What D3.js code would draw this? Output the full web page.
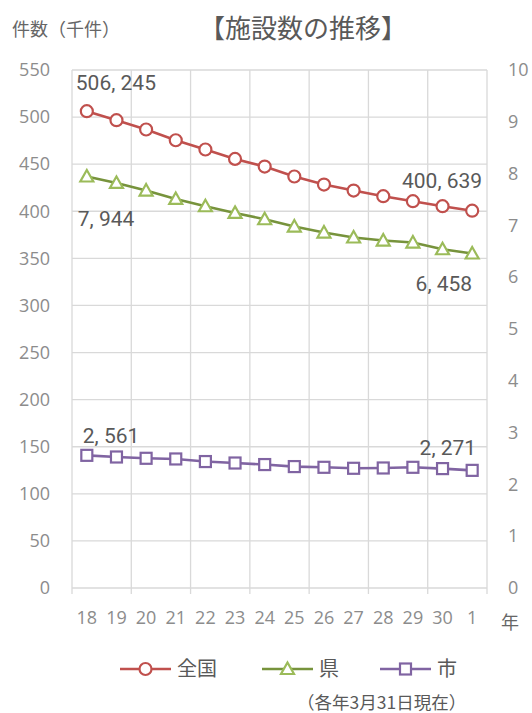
<!DOCTYPE html>
<html>
<head>
<meta charset="utf-8">
<script src="https://cdn.jsdelivr.net/npm/d3@7"></script>
<style>
body{margin:0;background:#fff;}
svg{display:block;font-family:"Noto Sans CJK JP","Noto Sans",sans-serif;}
.tick text{fill:#8c8c8c;font-family:"Open Sans","Noto Sans",sans-serif;font-size:18px;}
.lbl{fill:#595959;font-family:"Roboto","Noto Sans",sans-serif;font-size:21px;}
</style>
</head>
<body>
<script>
// 年度 (平成18〜令和1)
const years = ["18","19","20","21","22","23","24","25","26","27","28","29","30","1"];
// 全国 (件) - left axis
const zenkoku = [506245,496700,486800,475400,465600,455600,447500,436900,428400,422000,416000,410700,405400,400639];
// 県 (件) - right axis
const ken = [7944,7820,7673,7511,7370,7241,7119,6978,6862,6766,6708,6669,6540,6458];
// 市 (件) - right axis
const shi = [2561,2529,2504,2491,2441,2413,2383,2344,2330,2311,2317,2330,2305,2271];
const leftTicks = [0,50,100,150,200,250,300,350,400,450,500,550];
const rightTicks = [0,1,2,3,4,5,6,7,8,9,10];

const width = 532, height = 713;
const margin = {top:70, left:72, right:45, bottom:125};
const innerW = width - margin.left - margin.right;
const innerH = height - margin.top - margin.bottom;

const svg = d3.select("body").append("svg")
	.attr("width",width).attr("height",height);
svg.append("rect").attr("width",width).attr("height",height).attr("fill","#fff");

const fmt = d => d3.format(",")(d).replace(",", ", ");

let x = d3.scaleBand().domain(years).range([0,innerW]);
let yL = d3.scaleLinear().domain([0,550]).range([innerH,0]);
let yR = d3.scaleLinear().domain([0,10]).range([innerH,0]);

let g = svg.append("g").attr("transform","translate("+margin.left+","+margin.top+")");

//horizontal gridlines
g.append("g").selectAll("line").data(leftTicks).enter().append("line")
	.attr("x1",0).attr("x2",innerW)
	.attr("y1",d=>yL(d)).attr("y2",d=>yL(d))
	.attr("stroke","#d9d9d9").attr("stroke-width",1.3);
//vertical gridlines every 2 years
const vlines = d3.range(0, years.length+1, 2).map(i => i*x.step());
g.append("g").selectAll("line").data(vlines).enter().append("line")
	.attr("x1",d=>d).attr("x2",d=>d)
	.attr("y1",0).attr("y2",innerH+6)
	.attr("stroke","#d9d9d9").attr("stroke-width",1.3);

//left axis
let axL = g.append("g").call(d3.axisLeft(yL).tickValues(leftTicks).tickSize(0).tickPadding(22));
axL.select(".domain").remove();
//right axis
let axR = g.append("g").attr("transform","translate("+innerW+",0)")
	.call(d3.axisRight(yR).tickValues(rightTicks).tickSize(0).tickPadding(21));
axR.select(".domain").remove();
//x axis
let axB = g.append("g").attr("transform","translate(0,"+innerH+")")
	.call(d3.axisBottom(x).tickSize(0).tickPadding(23));
axB.select(".domain").remove();
axB.selectAll(".tick text").attr("dy","0.71em");

g.append("text").attr("x",innerW+14).attr("y",innerH+41)
	.attr("fill","#666").attr("font-size",18).text("年");

//series
const series = [
	{name:"全国", values:zenkoku.map(v=>v/1000), y:yL, line:"#c0504d", mark:"#c0504d", shape:"circle"},
	{name:"県", values:ken.map(v=>v/1000), y:yR, line:"#77933c", mark:"#9bbb59", shape:"triangle"},
	{name:"市", values:shi.map(v=>v/1000), y:yR, line:"#8064a2", mark:"#8064a2", shape:"square"}
];

function drawMarker(sel, shape, color){
	if(shape==="circle"){
		sel.append("circle").attr("r",6);
	} else if(shape==="triangle"){
		sel.append("path").attr("d","M0,-6.5L6.5,5L-6.5,5Z");
	} else {
		sel.append("rect").attr("x",-5.5).attr("y",-5.5).attr("width",11).attr("height",11);
	}
	sel.selectAll("circle,path,rect").attr("fill","#fff").attr("stroke",color).attr("stroke-width",2.2);
}

const cx = d => x(d) + x.bandwidth()/2;

series.forEach(s=>{
	let line = d3.line().x((d,i)=>cx(years[i])).y(d=>s.y(d));
	g.append("path").datum(s.values).attr("d",line)
		.attr("fill","none").attr("stroke",s.line).attr("stroke-width",2.6);
	s.values.forEach((v,i)=>{
		let m = g.append("g").attr("transform","translate("+cx(years[i])+","+s.y(v)+")");
		drawMarker(m, s.shape, s.mark);
	});
});

//data labels
const first = years[0], last = years[years.length-1];
const labels = [
	{t:fmt(zenkoku[0]), x:cx(first)-11, y:yL(zenkoku[0]/1000)-21, a:"start"},
	{t:fmt(zenkoku[13]), x:cx(last)+10, y:yL(zenkoku[13]/1000)-23, a:"end"},
	{t:fmt(ken[0]), x:cx(first)-9, y:yR(ken[0]/1000)+49, a:"start"},
	{t:fmt(ken[13]), x:cx(last)+0, y:yR(ken[13]/1000)+38, a:"end"},
	{t:fmt(shi[0]), x:cx(first)-4, y:yR(shi[0]/1000)-12, a:"start"},
	{t:fmt(shi[13]), x:cx(last)+4, y:yR(shi[13]/1000)-15, a:"end"}
];
g.selectAll(".lbl").data(labels).enter().append("text")
	.attr("class","lbl")
	.attr("x",d=>d.x).attr("y",d=>d.y)
	.attr("text-anchor",d=>d.a).text(d=>d.t);

//titles
svg.append("text").attr("x",303).attr("y",38).attr("text-anchor","middle")
	.attr("fill","#595959").attr("font-size",26).text("【施設数の推移】");
svg.append("text").attr("x",12).attr("y",36)
	.attr("fill","#666").attr("font-size",18).text("件数（千件）");

//legend
const legX = [120, 262, 380];
series.forEach((s,i)=>{
	let lg = svg.append("g").attr("transform","translate("+legX[i]+",669)");
	lg.append("line").attr("x1",0).attr("x2",51).attr("stroke",s.line).attr("stroke-width",2.6);
	let m = lg.append("g").attr("transform","translate(25.5,0)");
	drawMarker(m, s.shape, s.mark);
	lg.append("text").attr("x",57).attr("y",7).attr("fill","#595959")
		.attr("font-size",20).text(s.name);
});

svg.append("text").attr("x",297).attr("y",709).attr("fill","#595959")
	.attr("font-size",17.5).text("（各年3月31日現在）");
</script>
</body>
</html>
